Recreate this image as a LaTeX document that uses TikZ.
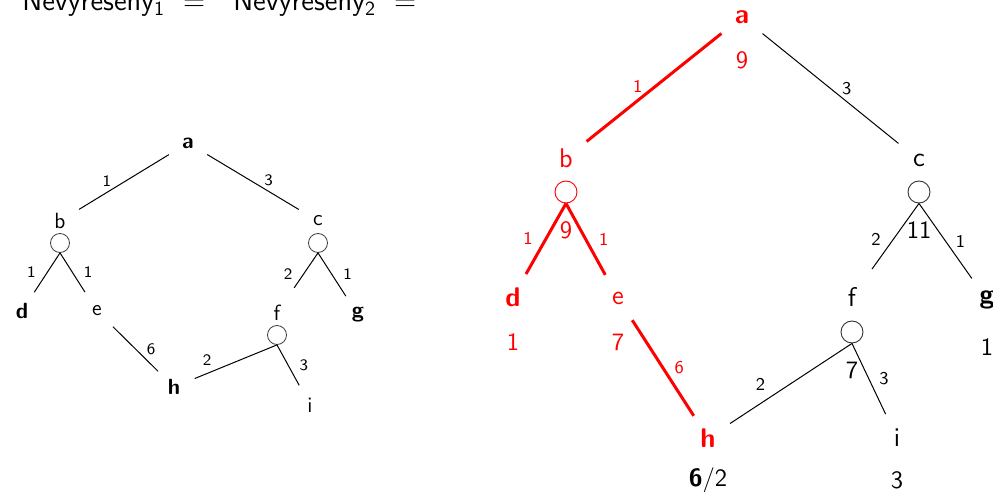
\documentclass[tikz,border=0pt]{standalone}
\usepackage{tikz}

\tikzset{
  smnode/.style={circle, inner sep=0pt, minimum size=22pt, font=\sffamily\fontsize{11}{13}\selectfont},
  bignode/.style={circle, inner sep=0pt, minimum size=26pt, font=\sffamily\fontsize{13.5}{16}\selectfont},
  smand/.style={circle, draw=black!75, line width=0.4pt, inner sep=0pt, minimum size=9.5pt},
  bigand/.style={circle, draw=black!80, line width=0.45pt, inner sep=0pt, minimum size=11pt},
  smw/.style={font=\sffamily\fontsize{8}{9}\selectfont, inner sep=2.5pt},
  bigw/.style={font=\sffamily\fontsize{9}{11}\selectfont, inner sep=3pt},
  val/.style={font=\sffamily\fontsize{12.5}{15}\selectfont, inner sep=0pt},
  hr/.style={line width=0.5pt},
  hot/.style={red, line width=1.5pt},
}

\begin{document}
\begin{tikzpicture}[x=0.5pt, y=-0.5pt]
    \useasboundingbox (0,0) rectangle (993,492);
    \clip (0,0) rectangle (993,492);

    % Titulek (oriznuty)
    \node[anchor=base west, inner sep=0pt, font=\sffamily\fontsize{14.5}{17}\selectfont] (title) at (22,11)
        {Nevyřešený$_\mathsf{1}$\hspace{9pt}=\hspace{14pt}Nevyřešený$_\mathsf{2}$\hspace{9pt}=};

    % Maly strom
    \node[smnode] (la) at (188,143) {\bfseries a};
    \node[smnode] (lb) at (60,221) {b};
    \node[smand] (lbo) at (60,243) {};
    \node[smnode] (lc) at (318,221) {c};
    \node[smand] (lco) at (318,243) {};
    \node[smnode] (ld) at (22,311) {\bfseries d};
    \node[smnode] (le) at (97,311) {e};
    \node[smnode] (lf) at (277,313) {f};
    \node[smand] (lfo) at (277,335) {};
    \node[smnode] (lg) at (358,315) {\bfseries g};
    \node[smnode] (lh) at (174,387) {\bfseries h};
    \node[smnode] (li) at (310,405) {i};

    \draw[hr] (la) -- node[smw, pos=.69, above] {1} (lb);
    \draw[hr] (la) -- node[smw, pos=.67, above] {3} (lc);
    \draw[hr] (lbo.south) -- node[smw, left=3pt] {1} (ld);
    \draw[hr] (lbo.south) -- node[smw, right=3pt] {1} (le);
    \draw[hr, shorten >=4pt] (lco.south) -- node[smw, left=3pt] {2} (lf);
    \draw[hr] (lco.south) -- node[smw, right=3pt] {1} (lg);
    \draw[hr] (le) -- node[smw, right=3pt] {6} (lh);
    \draw[hr] (lh) -- node[smw, pos=.15, above=1pt] {2} (lfo.south);
    \draw[hr] (lfo.south) -- node[smw, right=3pt] {3} (li);

    % Velky strom s ohodnocenim
    \node[bignode, red] (ra) at (742,17) {\bfseries a};
    \node[val, red] (va) at (742,60) {9};
    \node[bignode, red] (rb) at (566,158) {b};
    \node[bigand, draw=red] (rbo) at (566,192) {};
    \node[val, red] (vb) at (566,230) {9};
    \node[bignode] (rc) at (919,160) {c};
    \node[bigand] (rco) at (919,192) {};
    \node[val] (vc) at (919,230) {11};
    \node[bignode, red] (rd) at (513,297) {\bfseries d};
    \node[val, red] (vd) at (513,342) {1};
    \node[bignode, red] (re) at (618,298) {e};
    \node[val, red] (ve) at (618,342) {7};
    \node[bignode] (rf) at (852,297) {f};
    \node[bigand] (rfo) at (852,332) {};
    \node[val] (vf) at (852,370) {7};
    \node[bignode] (rg) at (987,300) {\bfseries g};
    \node[val] (vg) at (987,347) {1};
    \node[bignode, red] (rh) at (708,438) {\bfseries h};
    \node[val] (vh) at (708,480) {\textbf{6}/2};
    \node[bignode] (ri) at (897,438) {i};
    \node[val] (vi) at (897,480) {3};

    \draw[hot] (ra) -- node[bigw, pos=.62, above] {1} (rb);
    \draw[hr] (ra) -- node[bigw, pos=.62, above] {3} (rc);
    \draw[hot] (rbo.south) -- node[bigw, left=3pt] {1} (rd);
    \draw[hot] (rbo.south) -- node[bigw, right=3pt] {1} (re);
    \draw[hr, shorten >=4pt] (rco.south) -- node[bigw, left=3pt] {2} (rf);
    \draw[hr] (rco.south) -- node[bigw, right=2pt] {1} (rg);
    \draw[hot] (re) -- node[bigw, right=2pt] {6} (rh);
    \draw[hr] (rh) -- node[bigw, pos=.25, above=3pt] {2} (rfo.south);
    \draw[hr] (rfo.south) -- node[bigw, right=2pt] {3} (ri);

\end{tikzpicture}
\end{document}
